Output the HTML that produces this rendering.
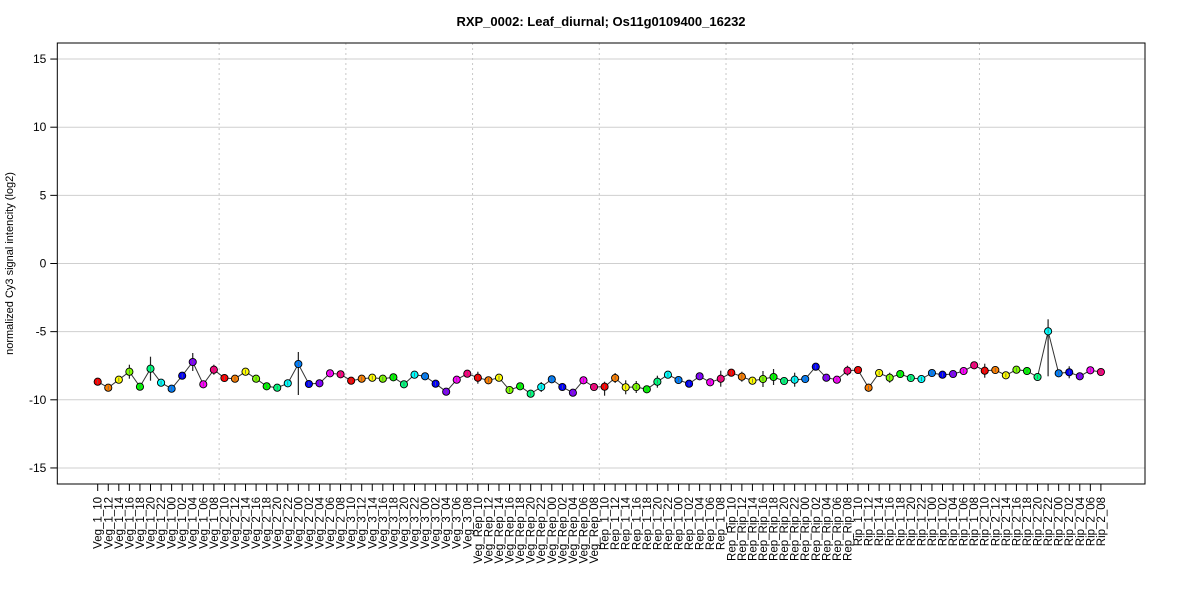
<!DOCTYPE html><html><head><meta charset="utf-8"><style>body{margin:0;background:#fff}svg{display:block;font-family:"Liberation Sans",Arial,sans-serif}</style></head><body>
<svg id="s" width="1200" height="600" xmlns="http://www.w3.org/2000/svg"></svg>
<script>
const s=document.getElementById('s');let h='';
const L=57.3,R=1145,T=43,B=484;
const Y=v=>263.5-v*13.63;
h+=`<text x="601" y="26" text-anchor="middle" font-weight="bold" font-size="13">RXP_0002: Leaf_diurnal; Os11g0109400_16232</text>`;
h+=`<text transform="translate(13,263.5) rotate(-90)" text-anchor="middle" font-size="11">normalized Cy3 signal intencity (log2)</text>`;
for(let v=-15;v<=15;v+=5){const y=Y(v);h+=`<line x1="${L}" x2="${R}" y1="${y}" y2="${y}" stroke="#cfcfcf"/><line x1="${L-7}" x2="${L}" y1="${y}" y2="${y}" stroke="#000"/><text x="${L-11}" y="${y+4}" text-anchor="end" font-size="12">${v}</text>`;}
const x0=97.7,dx=10.56;const X=i=>x0+i*dx;
for(let k=1;k<8;k++){const x=X(k*12-0.5);h+=`<line x1="${x}" x2="${x}" y1="${T}" y2="${B}" stroke="#c8c8c8" stroke-dasharray="2,3"/>`;}
const ys=[381.7,387.7,379.7,371.7,386.7,368.7,382.7,388.7,375.7,362,384.3,369.7,
378,378.7,371.7,378.7,386.3,387.7,383.3,364,384,383.3,373.3,374.3,
380.7,378.7,377.7,378.7,377.3,384.3,374.7,376.3,383.7,391.7,379.7,373.7,
377.7,380.3,377.7,390,386.3,393.7,387,379.3,387,392.7,380.3,387,
386.7,378,387.3,387,389.3,381.7,374.7,380,383.7,376.3,382.3,378.7,
372.7,376.7,380.7,379,377,381,379.7,379,366.7,377.7,379.7,370.7,
370,387.7,373,377.7,374,378,379,373,374.7,374,371,365.3,
370.7,370,375.3,369.7,371,377,331.3,373.3,372.3,376.3,370.3,372];
const big={3:[7,7],5:[12,12],9:[9,9],11:[5,5],19:[12,31],36:[6,6],42:[5,5],48:[5,9],49:[5,5],50:[7,7],51:[6,6],53:[6,6],59:[8,8],61:[5,5],63:[8,8],64:[8,8],66:[7,7],71:[5,5],73:[4,4],75:[5,5],84:[7,7],88:[4,4],90:[12,45],92:[6,6]};
const cols=['#FF0000','#FF8000','#FFFF00','#80FF00','#00FF00','#00FF80','#00FFFF','#0080FF','#0000FF','#8000FF','#FF00FF','#FF0080'];
const names=['Veg_1','Veg_2','Veg_3','Veg_Rep','Rep_1','Rep_Rip','Rip_1','Rip_2'];
const hrs=['10','12','14','16','18','20','22','00','02','04','06','08'];
let pts=ys.map((y,i)=>X(i).toFixed(1)+','+y).join(' ');
h+=`<polyline points="${pts}" fill="none" stroke="#333" stroke-width="1"/>`;
ys.forEach((y,i)=>{const e=big[i]||[3,3];const x=X(i);h+=`<line x1="${x}" x2="${x}" y1="${y-e[0]}" y2="${y+e[1]}" stroke="${big[i]?'#222':'#888'}" stroke-width="1.2"/>`;});
ys.forEach((y,i)=>{const x=X(i);h+=`<circle cx="${x}" cy="${y}" r="3.6" fill="${cols[i%12]}" stroke="#000" stroke-width="0.9"/><line x1="${x}" x2="${x}" y1="${y-2}" y2="${y+2}" stroke="#666" stroke-width="0.8"/>`;
h+=`<line x1="${x}" x2="${x}" y1="${B}" y2="${B+7}" stroke="#000"/><text transform="translate(${x+4},497) rotate(-90)" text-anchor="end" font-size="11.5">${names[Math.floor(i/12)]}_${hrs[i%12]}</text>`;});
h+=`<rect x="${L}" y="${T}" width="${R-L}" height="${B-T}" fill="none" stroke="#000"/>`;
s.innerHTML=h;
</script></body></html>
